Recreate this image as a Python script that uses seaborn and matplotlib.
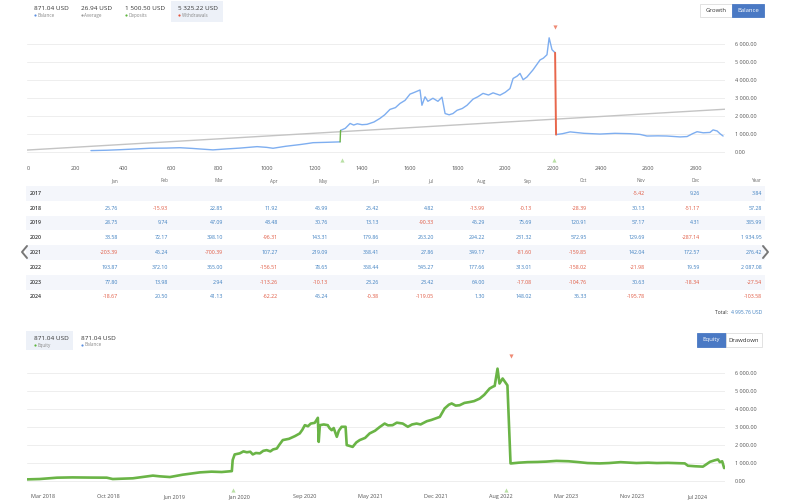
import pandas as pd
import numpy as np
import matplotlib
matplotlib.use("Agg")
import matplotlib.pyplot as plt
from matplotlib.patches import Rectangle
import seaborn as sns

# ---- balance curve (x = trade number) ----
trade_no = [264, 330, 386, 450, 511, 580, 637, 690, 721, 775, 830, 889, 960, 1000, 1027,
            1080, 1140, 1170, 1195, 1250, 1308,
            1310, 1330, 1350, 1365, 1380, 1400, 1421, 1450, 1475, 1495, 1517, 1540, 1559,
            1580, 1601, 1620, 1643, 1651, 1664, 1676, 1697, 1718, 1735, 1748, 1765, 1781,
            1798, 1820, 1840, 1865, 1885, 1907, 1930, 1949, 1978, 2000, 2020, 2033, 2050,
            2062, 2075, 2091, 2116, 2130, 2146, 2160, 2175, 2184, 2196, 2209,
            2213, 2240, 2272, 2330, 2397, 2460, 2523, 2565, 2594, 2640, 2678, 2733, 2762,
            2785, 2804, 2830, 2858, 2871, 2888, 2900, 2913]
balance = [60, 80, 110, 150, 190, 200, 220, 180, 150, 100, 150, 200, 280, 240, 190,
           300, 395, 450, 500, 520, 545,
           1180, 1300, 1570, 1480, 1550, 1500, 1520, 1650, 1850, 2050, 2350, 2450, 2680,
           2850, 3200, 3300, 3430, 2580, 3050, 2800, 2970, 2800, 3030, 2120, 2050, 2120,
           2300, 2400, 2580, 2920, 3050, 3240, 3150, 3270, 3140, 3300, 3510, 4070, 4200,
           4350, 4000, 4150, 4540, 4800, 5100, 5200, 5390, 6330, 5670, 5500,
           950, 1000, 1100, 1020, 980, 1020, 1000, 960, 870, 880, 870, 820, 840,
           1000, 1110, 1050, 1070, 1210, 1150, 1000, 870]
deposit_trades = [1308, 1310]
deposit_values = [545, 1180]
withdraw_trades = [2209, 2213]
withdraw_values = [5500, 950]
trend_x = [-4, 2921]
trend_y = [90, 2360]
deposit_marks = [1316, 2205]
withdraw_marks = [2209]

# ---- equity curve (x = date) ----
eq_dates = ["2018-01-06", "2018-02-20", "2018-04-22", "2018-06-15", "2018-08-20",
            "2018-10-15", "2018-11-05", "2019-01-15", "2019-03-27", "2019-04-20",
            "2019-05-26", "2019-07-10", "2019-09-09", "2019-10-20", "2019-11-25",
            "2019-12-31", "2020-01-03", "2020-01-10", "2020-01-28", "2020-02-10",
            "2020-02-22", "2020-03-05", "2020-03-14", "2020-03-25", "2020-04-08",
            "2020-04-20", "2020-05-02", "2020-05-15", "2020-05-25", "2020-06-07",
            "2020-06-15", "2020-06-28", "2020-07-20", "2020-08-10", "2020-08-27",
            "2020-09-05", "2020-09-14", "2020-09-25", "2020-10-05", "2020-10-19",
            "2020-10-30", "2020-11-02", "2020-11-06", "2020-11-20", "2020-12-04",
            "2020-12-10", "2020-12-18", "2020-12-25", "2021-01-05", "2021-01-12",
            "2021-01-22", "2021-02-05", "2021-02-09", "2021-02-20", "2021-03-02",
            "2021-03-15", "2021-03-27", "2021-04-15", "2021-05-01", "2021-05-20",
            "2021-06-05", "2021-06-23", "2021-07-05", "2021-07-21", "2021-08-05",
            "2021-08-26", "2021-09-05", "2021-09-13", "2021-09-28", "2021-10-14",
            "2021-10-28", "2021-11-19", "2021-12-05", "2022-01-04", "2022-01-21",
            "2022-02-05", "2022-02-15", "2022-03-01", "2022-03-15", "2022-04-01",
            "2022-04-20", "2022-05-05", "2022-05-25", "2022-06-10", "2022-06-29",
            "2022-07-10", "2022-07-17", "2022-07-27", "2022-08-03", "2022-08-14",
            "2022-08-31", "2022-09-11", "2022-09-14", "2022-10-10", "2022-11-10",
            "2022-12-15", "2023-01-15", "2023-02-20", "2023-04-04", "2023-05-10",
            "2023-06-10", "2023-07-23", "2023-08-25", "2023-10-05", "2023-11-30",
            "2024-01-10", "2024-02-10", "2024-03-20", "2024-05-19", "2024-05-30",
            "2024-06-25", "2024-07-22", "2024-08-05", "2024-08-16", "2024-09-01",
            "2024-09-13", "2024-09-20", "2024-09-28", "2024-10-05"]
eq_values = [90, 110, 185, 200, 190,
             185, 110, 150, 300, 260,
             220, 350, 480, 520, 500,
             550, 1170, 1480, 1540, 1650,
             1600, 1630, 1480, 1560, 1540,
             1680, 1720, 1650, 1760, 1810,
             2000, 2280, 2350, 2500, 2650,
             2850, 3110, 3050, 3200, 3240,
             3520, 2180, 3110, 3150, 3110,
             2950, 2830, 2950, 2460, 2800,
             3020, 3020, 2000, 1950, 1900,
             2150, 2280, 2400, 2650, 2800,
             3000, 3200, 3100, 3110, 3250,
             3200, 3100, 3020, 3150, 3200,
             3150, 3330, 3400, 3570, 4040,
             4250, 4320, 4200, 4220, 4350,
             4400, 4450, 4590, 4800, 5150,
             5250, 5300, 6260, 5430, 5710,
             5330, 980, 980, 1020, 1050,
             1060, 1080, 1120, 1100, 1050,
             1000, 980, 1000, 1050, 1000,
             1020, 1000, 1010, 980, 850,
             820, 800, 950, 1070, 1150,
             1200, 1050, 1100, 720]
eq_deposit_marks = ["2020-01-03", "2022-08-25"]
eq_withdraw_marks = ["2022-09-11"]
eq_tick_dates = ["2018-03-05", "2018-10-22", "2019-06-10", "2020-01-27", "2020-09-14",
                 "2021-05-03", "2021-12-20", "2022-08-08", "2023-03-27", "2023-11-13",
                 "2024-07-01"]
eq_tick_labels = ["Mar 2018", "Oct 2018", "Jun 2019", "Jan 2020", "Sep 2020", "May 2021",
                  "Dec 2021", "Aug 2022", "Mar 2023", "Nov 2023", "Jul 2024"]

# ---- monthly table ----
months = ["Jan", "Feb", "Mar", "Apr", "May", "Jun", "Jul", "Aug", "Sep", "Oct", "Nov", "Dec"]
years = [2017, 2018, 2019, 2020, 2021, 2022, 2023, 2024]
monthly = [
    [None] * 10 + [-5.42, 9.26],
    [25.76, -15.93, 22.85, 11.92, 45.99, 25.42, 4.82, -13.99, -0.13, -28.39, 30.13, -51.17],
    [28.75, 9.74, 47.09, 43.48, 30.76, 13.13, -90.33, 45.29, 75.69, 120.91, 57.17, 4.31],
    [33.58, 72.17, 398.10, -96.31, 143.31, 179.86, 263.20, 294.22, 231.32, 572.95, 129.69, -287.14],
    [-203.39, 45.24, -700.39, 107.27, 219.09, 358.41, 27.86, 349.17, -81.60, -159.85, 142.04, 172.57],
    [193.87, 372.10, 365.00, -156.51, 78.65, 358.44, 545.27, 177.66, 313.01, -158.02, -21.98, 19.59],
    [77.80, 13.98, 2.94, -113.26, -10.13, 23.26, 23.42, 64.00, -17.08, -104.76, 30.63, -18.34],
    [-18.67, 20.50, 41.13, -62.22, 45.24, -0.38, -119.05, 1.30, 148.02, 36.33, -195.78, None],
]
yearly = [3.84, 57.28, 385.99, 1934.95, 276.42, 2087.08, -27.54, -103.58]
total = 4995.76

stats_top = [("871.04 USD", "Balance", "#5b8fe0"), ("26.94 USD", "Average", "#999999"),
             ("1 500.50 USD", "Deposits", "#5cb53c"), ("5 325.22 USD", "Withdrawals", "#e5533b")]
stats_bottom = [("871.04 USD", "Equity", "#5cb53c"), ("871.04 USD", "Balance", "#5b8fe0")]

BLUE = "#7eaef0"
GREEN = "#6ab446"
RED = "#e8674c"
POS = "#3d7fc0"
NEG = "#e0573f"
FONT = "Open Sans"

sns.set_style("white")
plt.rcParams["font.family"] = [FONT, "DejaVu Sans"]

W, H = 790, 501
fig = plt.figure(figsize=(W / 100, H / 100), dpi=100)


def fmt(v):
    return f"{v:,.2f}".replace(",", " ")


def px_axes(l, t, r, b):
    return fig.add_axes([l / W, 1 - b / H, (r - l) / W, (b - t) / H])


# overlay in pixel coordinates for text and decor
ov = fig.add_axes([0, 0, 1, 1], zorder=0)
ov.set_xlim(0, W)
ov.set_ylim(H, 0)
ov.axis("off")


def style_chart(ax, ylim):
    ax.set_facecolor("none")
    sns.despine(ax=ax, left=True, bottom=True, right=True, top=True)
    ax.set_ylim(*ylim)
    ax.set_yticks([0, 1000, 2000, 3000, 4000, 5000, 6000])
    ax.set_yticklabels([fmt(v) for v in ax.get_yticks()])
    ax.yaxis.tick_right()
    ax.yaxis.grid(True, color="#eeeeee", lw=0.7)
    ax.tick_params(axis="y", length=0, pad=7, labelsize=4, labelcolor="#555555")
    ax.tick_params(axis="x", length=0, labelsize=4, labelcolor="#555555")
    ax.set_xlabel("")
    ax.set_ylabel("")


# ---- top chart: balance by trade ----
ax1 = px_axes(27, 22, 725, 162)
ax1.set_zorder(1)
pieces = [0] * 21 + [1] * 50 + [2] * 21
bal_df = pd.DataFrame({"trade": trade_no, "balance": balance, "piece": pieces})
sns.lineplot(data=bal_df, x="trade", y="balance", units="piece", estimator=None,
             color=BLUE, lw=1.0, ax=ax1)
sns.lineplot(x=trend_x, y=trend_y, color="#c4c4c4", lw=1.0, ax=ax1)
sns.lineplot(x=deposit_trades, y=deposit_values, color=GREEN, lw=1.0, ax=ax1)
sns.lineplot(x=withdraw_trades, y=withdraw_values, color=RED, lw=1.4, ax=ax1)
ax1.scatter(deposit_marks, [0.014] * len(deposit_marks), marker="^", s=9, color="#b9e0a5",
            transform=ax1.get_xaxis_transform(), clip_on=False, lw=0)
ax1.scatter(withdraw_marks, [0.965] * len(withdraw_marks), marker="v", s=9, color="#ef8a74",
            transform=ax1.get_xaxis_transform(), clip_on=False, lw=0)
ax1.set_xlim(-4, 2921)
ax1.set_xticks(list(range(0, 2801, 200)))
style_chart(ax1, (-574, 7209))
ax1.tick_params(axis="x", pad=3)

# ---- bottom chart: equity by date ----
ax2 = px_axes(27, 350, 725, 492)
ax2.set_zorder(1)
eq_df = pd.DataFrame({"date": pd.to_datetime(eq_dates), "equity": eq_values})
sns.lineplot(data=eq_df, x="date", y="equity", color=GREEN, lw=1.9, ax=ax2)
ax2.scatter(pd.to_datetime(eq_deposit_marks), [0.014] * len(eq_deposit_marks), marker="^",
            s=9, color="#b9e0a5", transform=ax2.get_xaxis_transform(), clip_on=False, lw=0)
ax2.scatter(pd.to_datetime(eq_withdraw_marks), [0.96] * len(eq_withdraw_marks), marker="v",
            s=9, color="#ef8a74", transform=ax2.get_xaxis_transform(), clip_on=False, lw=0)
ax2.set_xlim(pd.Timestamp("2018-01-06"), pd.Timestamp("2024-10-08"))
ax2.set_xticks(pd.to_datetime(eq_tick_dates))
ax2.set_xticklabels(eq_tick_labels)
style_chart(ax2, (-613, 7298))
ax2.tick_params(axis="x", pad=1.5)


# ---- summary blocks ----
def stat_block(items, xs, y):
    for (val, lab, col), x in zip(items, xs):
        ov.text(x, y, val, fontsize=4.6, color="#333333", va="center", ha="left")
        ov.scatter([x + 1], [y + 7], s=2.5, color=col, lw=0)
        ov.text(x + 3.5, y + 7, lab, fontsize=3.3, color="#888888", va="center", ha="left")


ov.add_patch(Rectangle((171, 1), 52, 21, color="#edf1f8", lw=0))
stat_block(stats_top, [34, 81, 125, 178], 8)
ov.add_patch(Rectangle((26, 331), 47, 19, color="#edf1f8", lw=0))
stat_block(stats_bottom, [34, 81], 338)


def buttons(labels, x0, widths, y0, h, active):
    x = x0
    for lab, w in zip(labels, widths):
        on = lab == active
        ov.add_patch(Rectangle((x, y0), w, h, facecolor="#4a79c4" if on else "white",
                               edgecolor="#4a79c4" if on else "#dddddd", lw=0.6))
        ov.text(x + w / 2, y0 + h / 2, lab, fontsize=4.3, ha="center", va="center",
                color="white" if on else "#333333")
        x += w


buttons(["Growth", "Balance"], 700, [32, 32], 4, 13, "Balance")
buttons(["Equity", "Drawdown"], 697, [29, 36], 333, 14, "Equity")

# ---- monthly table ----
col_right = [118, 168, 223, 278, 328, 379, 434, 485, 532, 587, 645, 700]
year_right = 762
row_y = [193.3, 208.2, 223.0, 237.8, 252.6, 267.4, 282.2, 297.0]
for m, xr in zip(months, col_right):
    ov.text(xr, 181, m, fontsize=3.3, color="#666666", ha="right", va="center")
ov.text(year_right, 181, "Year", fontsize=3.3, color="#666666", ha="right", va="center")
for i, (yr, vals, ysum) in enumerate(zip(years, monthly, yearly)):
    y = row_y[i]
    if i % 2 == 0:
        ov.add_patch(Rectangle((26, y - 7.4), 739, 14.8, color="#f4f6fb", lw=0))
    ov.text(30, y, str(yr), fontsize=3.8, color="#333333", weight="semibold",
            ha="left", va="center")
    for v, xr in zip(vals, col_right):
        if v is None:
            continue
        ov.text(xr, y, fmt(v), fontsize=3.8, color=POS if v >= 0 else NEG,
                ha="right", va="center")
    ov.text(year_right, y, fmt(ysum), fontsize=3.8, color=POS if ysum >= 0 else NEG,
            ha="right", va="center")

ov.text(year_right, 312, fmt(total) + " USD", fontsize=3.6, color=POS, ha="right", va="center")
ov.text(year_right - 34, 312, "Total:", fontsize=3.6, color="#333333", ha="right", va="center")

# navigation arrows
ov.plot([27, 22, 27], [246, 252, 258], color="#777777", lw=1.4, solid_capstyle="round")
ov.plot([763, 768, 763], [246, 252, 258], color="#777777", lw=1.4, solid_capstyle="round")

fig.savefig("out.png", dpi=100)
